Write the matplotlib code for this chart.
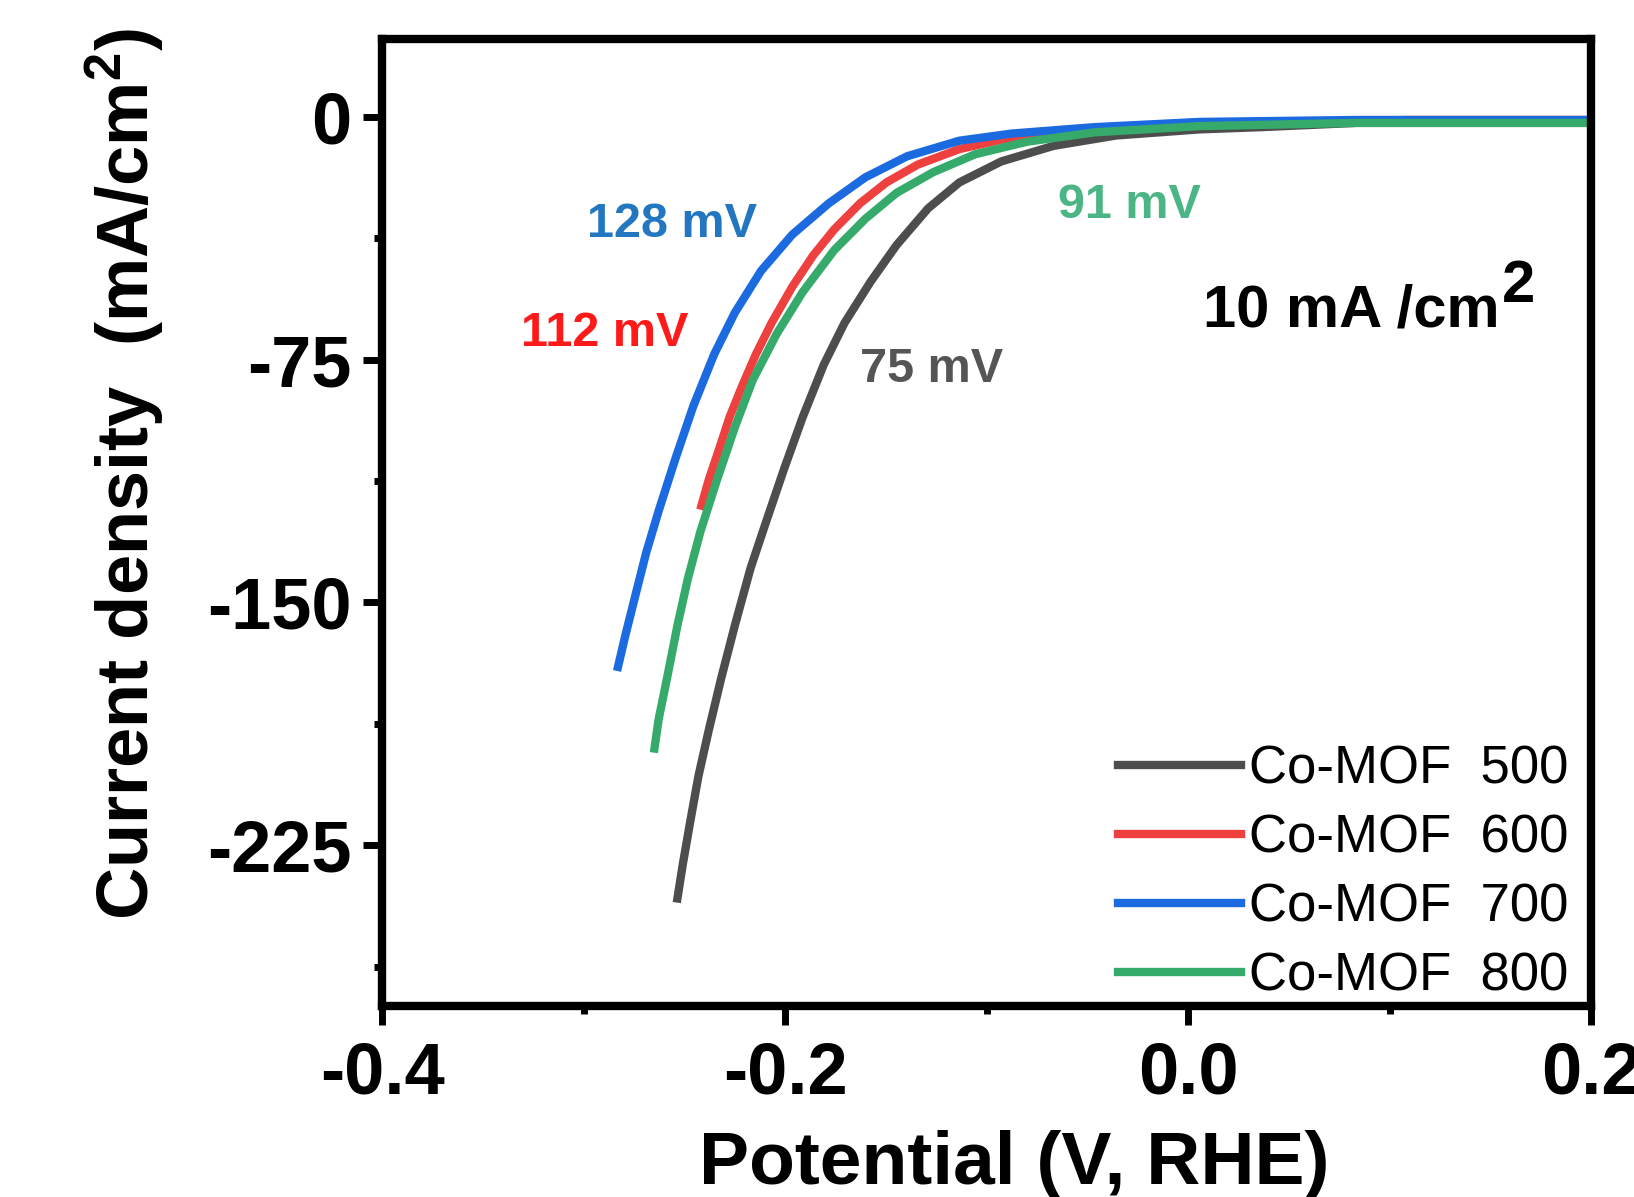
import numpy as np
import matplotlib
matplotlib.use('Agg')
import matplotlib.pyplot as plt
from matplotlib.ticker import MultipleLocator

plt.rcParams['font.family'] = ['Liberation Sans', 'DejaVu Sans']
plt.rcParams['axes.unicode_minus'] = False
plt.rcParams['mathtext.fontset'] = 'custom'
plt.rcParams['mathtext.rm'] = 'Liberation Sans:bold'
plt.rcParams['mathtext.bf'] = 'Liberation Sans:bold'

# ── data (V vs RHE, mA/cm2) ─────────────────────────────────
v_500 = [-0.2534, -0.2508, -0.2472, -0.2430, -0.2378, -0.2316, -0.2249, -0.2171,
         -0.2093, -0.2005, -0.1912, -0.1808, -0.1705, -0.1575, -0.1446, -0.1290,
         -0.1135, -0.0927, -0.0668, -0.0358, 0.0057, 0.0368, 0.0834, 0.1974]
j_500 = [-241.4, -231.1, -218.2, -203.7, -189.3, -173.2, -157.1, -139.4,
         -124.9, -108.8, -92.7, -76.6, -63.7, -50.9, -39.6, -28.3,
         -20.3, -13.8, -9.0, -5.8, -3.9, -3.2, -1.9, -1.9]

v_600 = [-0.2415, -0.2378, -0.2326, -0.2275, -0.2212, -0.2145, -0.2067, -0.1964,
         -0.1860, -0.1756, -0.1627, -0.1497, -0.1342, -0.1135, -0.0876, -0.0461,
         0.0057, 0.1093, 0.1974]
j_600 = [-120.1, -112.0, -102.4, -92.7, -83.0, -73.4, -63.7, -52.5,
         -42.8, -34.8, -26.7, -20.3, -14.8, -10.0, -6.4, -3.5,
         -1.9, -1.0, -1.0]

v_700 = [-0.2829, -0.2793, -0.2741, -0.2689, -0.2627, -0.2544, -0.2456, -0.2352,
         -0.2249, -0.2119, -0.1964, -0.1782, -0.1601, -0.1394, -0.1135, -0.0876,
         -0.0461, 0.0057, 0.0834, 0.1974]
j_700 = [-169.9, -160.3, -147.4, -134.6, -121.7, -105.6, -89.5, -73.4,
         -60.5, -47.6, -36.4, -26.7, -18.7, -12.2, -7.4, -5.2,
         -3.2, -1.6, -1.0, -1.0]

v_800 = [-0.2648, -0.2627, -0.2585, -0.2534, -0.2482, -0.2420, -0.2337, -0.2249,
         -0.2161, -0.2041, -0.1912, -0.1756, -0.1601, -0.1446, -0.1264, -0.1057,
         -0.0798, -0.0461, 0.0057, 0.0834, 0.1974]
j_800 = [-195.1, -186.0, -173.2, -157.1, -142.6, -128.1, -112.0, -95.9,
         -81.4, -67.0, -54.1, -41.2, -31.5, -23.5, -17.1, -11.6,
         -7.7, -4.8, -2.9, -1.9, -1.9]

labels = ['Co-MOF  500', 'Co-MOF  600', 'Co-MOF  700', 'Co-MOF  800']
overpot = ['75 mV', '112 mV', '128 mV', '91 mV']

c_500 = '#4d4d4d'
c_600 = '#ef4040'
c_700 = '#1c6ae0'
c_800 = '#36aa6a'

fig = plt.figure(figsize=(16.34, 11.97), dpi=100)
ax = fig.add_axes([0.2338, 0.1596, 0.7399, 0.8078])

lw = 6
ax.plot(v_500, j_500, color=c_500, lw=lw, label=labels[0])
ax.plot(v_600, j_600, color=c_600, lw=lw, label=labels[1])
ax.plot(v_700, j_700, color=c_700, lw=lw, label=labels[2])
ax.plot(v_800, j_800, color=c_800, lw=lw, label=labels[3])

ax.set_xlim(-0.4, 0.2)
ax.set_ylim(-274.6, 24)
ax.xaxis.set_major_locator(MultipleLocator(0.2))
ax.xaxis.set_minor_locator(MultipleLocator(0.1))
ax.yaxis.set_major_locator(MultipleLocator(75))
ax.yaxis.set_minor_locator(MultipleLocator(37.5))

for s in ax.spines.values():
    s.set_linewidth(6)
ax.tick_params(which='major', direction='out', length=14, width=5, pad=8,
               labelsize=52)
ax.tick_params(axis='x', which='major', pad=11)
ax.tick_params(which='minor', direction='out', length=6, width=5)
for t in ax.get_xticklabels() + ax.get_yticklabels():
    t.set_fontweight('bold')

ax.set_xlabel('Potential (V, RHE)', fontsize=54, fontweight='bold')
ax.set_ylabel(r'Current density  (mA/cm$^{2}$)', fontsize=52, fontweight='bold')
ax.xaxis.set_label_coords(0.523, -0.128)
ax.yaxis.set_label_coords(-0.178, 0.55)

# overpotential annotations at 10 mA/cm2
ax.text(-0.256, -33.2, overpot[2], color='#2277c0', fontsize=35,
        fontweight='bold', ha='center', va='center')
ax.text(-0.2896, -67.0, overpot[1], color='#ff1a1a', fontsize=35,
        fontweight='bold', ha='center', va='center')
ax.text(-0.029, -27.4, overpot[3], color='#4cb585', fontsize=35,
        fontweight='bold', ha='center', va='center')
ax.text(-0.1275, -78.2, overpot[0], color='#555555', fontsize=35,
        fontweight='bold', ha='center', va='center')
ax.text(0.0073, -64.7, '10 mA /cm', fontsize=43, fontweight='bold',
        ha='left', va='baseline')
ax.text(0.156, -57.3, '2', fontsize=43, fontweight='bold',
        ha='left', va='baseline')

ax.legend(loc='lower right', bbox_to_anchor=(0.981, 0.005), frameon=False,
          fontsize=38, handlelength=2.33, handletextpad=0.15,
          labelspacing=0.36, borderpad=0, borderaxespad=0)

plt.savefig('out.png', dpi=100)
